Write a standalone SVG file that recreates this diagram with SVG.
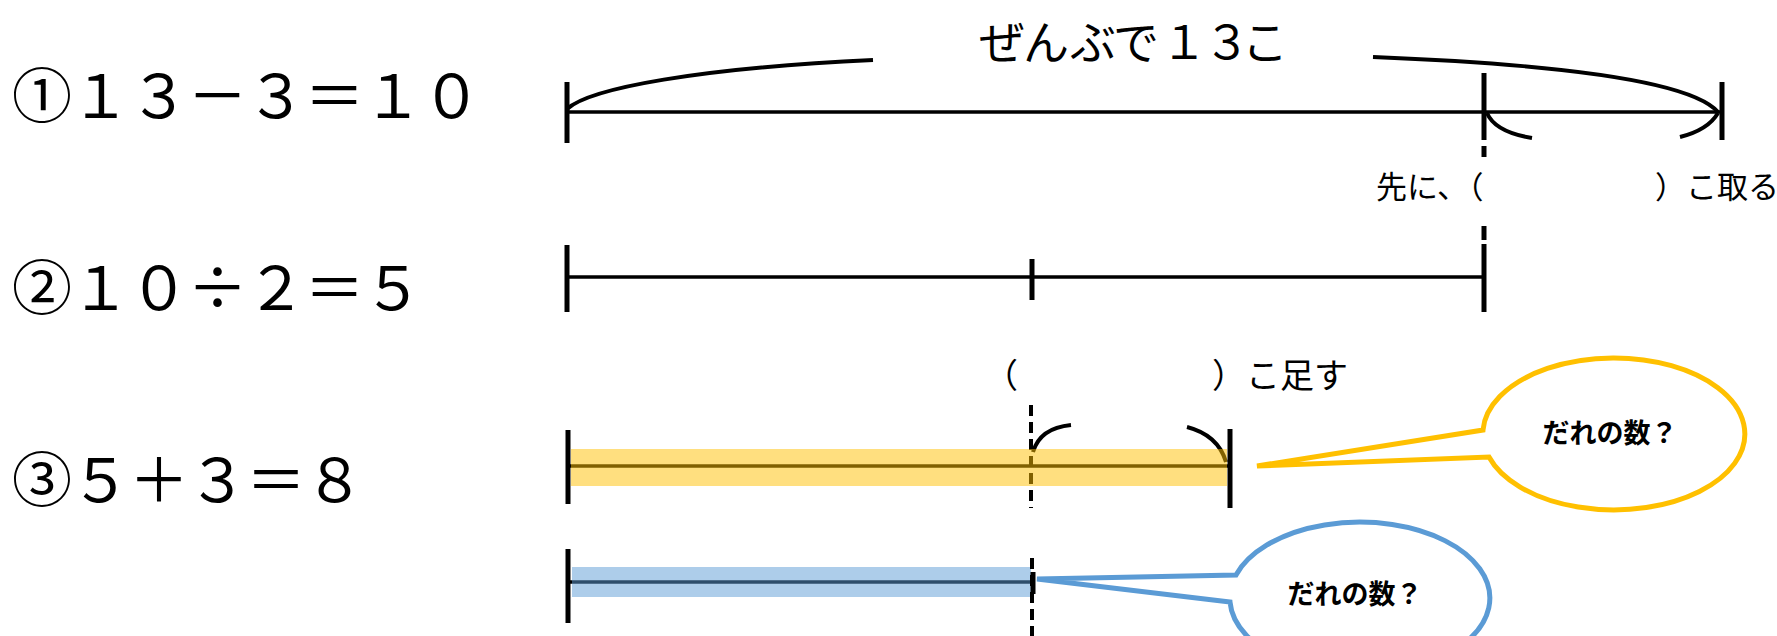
<svg xmlns="http://www.w3.org/2000/svg" width="1777" height="636" viewBox="0 0 1777 636">
<style>
.eq{font-family:"Noto Sans CJK JP","Liberation Sans",sans-serif;font-size:60px;fill:#000;text-anchor:middle}
.lbl{font-family:"Noto Sans CJK JP","Liberation Sans",sans-serif;fill:#000}
.ln{stroke:#000;stroke-width:3.5;fill:none}
.tk{stroke:#000;stroke-width:5;fill:none}
.br{stroke:#000;stroke-width:4;fill:none;stroke-linecap:butt}
.dash{stroke:#000;stroke-width:4;fill:none;stroke-dasharray:11 6}
.co-text{font-family:"Noto Sans CJK JP","Liberation Sans",sans-serif;font-size:27px;font-weight:700;fill:#000;text-anchor:middle}
</style>
<rect width="1777" height="636" fill="#fff"/>

<g id="equations">
<text class="eq" y="118" x="42 100.5 159 217.5 276 334.5 393 451.5">①１３－３＝１０</text>
<text class="eq" y="310" x="42 100.5 159 217.5 276 334.5 393">②１０÷２＝５</text>
<text class="eq" y="502" x="42 100.5 159 217.5 276 334.5">③５＋３＝８</text>
</g>

<g id="connectors">
<!-- row 1 -->
<line class="ln" x1="567" y1="112" x2="1722" y2="112"/>
<line class="tk" x1="567" y1="82" x2="567" y2="143"/>
<line class="tk" x1="1484" y1="73" x2="1484" y2="140"/>
<line class="tk" x1="1722" y1="82" x2="1722" y2="140"/>
<path class="br" d="M567,109 C590,88 700,68 873,60"/>
<path class="br" d="M1373,57 C1550,64 1690,80 1718,112"/>
<path class="br" d="M1487,113 Q1495,132 1532,138"/>
<path class="br" d="M1718,113 Q1708,130 1680,137"/>
<line class="tk" x1="1484" y1="146" x2="1484" y2="157"/>
<line class="tk" x1="1484" y1="226" x2="1484" y2="240"/>
<!-- row 2 -->
<line class="ln" x1="567" y1="277" x2="1484" y2="277"/>
<line class="tk" x1="567" y1="245" x2="567" y2="312"/>
<line class="tk" x1="1032" y1="259" x2="1032" y2="300"/>
<line class="tk" x1="1484" y1="244" x2="1484" y2="312"/>
<!-- row 3 -->
<line class="ln" x1="567" y1="466" x2="1230" y2="466" stroke-width="4.5"/>
<line class="dash" x1="1031" y1="405" x2="1031" y2="508"/>
<path class="br" d="M1033,452 Q1040,428 1071,425"/>
<path class="br" d="M1187,427 Q1218,435 1226,462"/>
<rect x="571" y="449" width="656" height="37" fill="#FFC000" fill-opacity="0.5"/>
<line class="tk" x1="568" y1="430" x2="568" y2="504"/>
<line class="tk" x1="1230" y1="429" x2="1230" y2="508"/>
<!-- row 4 -->
<line class="ln" x1="567" y1="582" x2="1032" y2="582" stroke-width="4.5"/>
<rect x="572" y="567" width="459" height="30" fill="#5B9BD5" fill-opacity="0.5"/>
<line class="tk" x1="568" y1="549" x2="568" y2="623"/>
<line class="dash" x1="1032" y1="558" x2="1032" y2="636"/>
<line class="tk" x1="1033" y1="572" x2="1033" y2="594"/>
</g>

<g id="title">
<text class="lbl" font-size="46" y="59" text-anchor="middle" x="1002 1046 1093 1136 1184 1227 1265">ぜんぶで１３こ</text>
</g>

<g id="label-take">
<text class="lbl" font-size="31" x="1376" y="198">先に、（</text>
<text class="lbl" font-size="31" x="1655" y="198">）こ取る</text>
</g>

<g id="label-add">
<text class="lbl" font-size="34" x="984" y="388">（</text>
<text class="lbl" font-size="34" x="1212" y="388">）こ足す</text>
</g>

<g id="callout-yellow">
<path d="M1483,430 A131,76 0 1 1 1489,457 L1257,466 Z" fill="#fff" stroke="#FFC000" stroke-width="5" stroke-linejoin="miter"/>
<text class="co-text" x="1610" y="443">だれの数？</text>
</g>

<g id="callout-blue">
<path d="M1236,575 A130,76 0 1 1 1230,602 L1037,579 Z" fill="#fff" stroke="#5B9BD5" stroke-width="5" stroke-linejoin="miter"/>
<text class="co-text" x="1355" y="604">だれの数？</text>
</g>
</svg>
